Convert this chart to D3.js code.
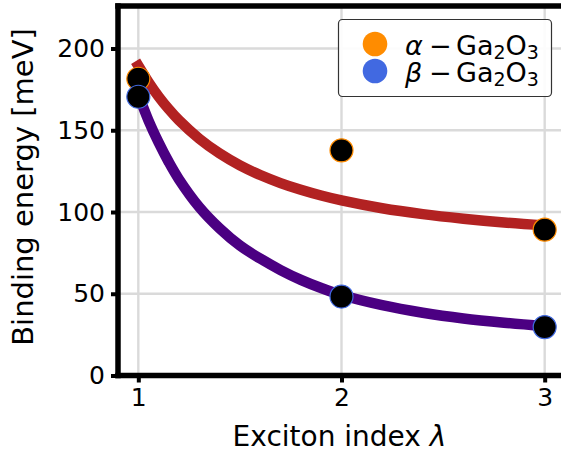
<!DOCTYPE html>
<html>
<head>
<meta charset="utf-8">
<script src="https://cdn.jsdelivr.net/npm/d3@7"></script>
<style>
  html, body { margin: 0; padding: 0; background: #fff; }
  svg { display: block; font-family: "DejaVu Sans", sans-serif; }
</style>
</head>
<body>
<svg id="chart" width="561" height="454"></svg>
<script>
// Exciton binding energies of the two Ga2O3 polymorphs
const excitonIndex = [1, 2, 3];
const alphaEnergy = [181.5, 137.7, 89.2];
const betaEnergy = [170.5, 48.3, 29.6];

// Smooth model curves through the series
const fitIndex = [1, 1.05, 1.1, 1.15, 1.2, 1.3, 1.4, 1.5, 1.6, 1.7, 1.8, 1.9, 2.0, 2.2, 2.4, 2.6, 2.8, 3.0];
const alphaFit = [189.5, 179.5, 170.6, 162.9, 156.1, 144.8, 135.8, 128.5, 122.6, 117.7, 113.6, 110.1, 107.1, 102.3, 98.7, 95.9, 93.6, 91.8];
const betaFit  = [172.0, 156.0, 142.5, 130.5, 120.0, 103.0, 90.0, 79.5, 71.5, 64.5, 58.5, 53.5, 49.2, 43.0, 38.4, 34.9, 32.3, 30.2];

const xTicks = [1, 2, 3];
const yTicks = [0, 50, 100, 150, 200];

const series = [
  { name: "α", fit: alphaFit, values: alphaEnergy, line: "#b22222", marker: "#ff8c00" },
  { name: "β", fit: betaFit,  values: betaEnergy,  line: "#4b0082", marker: "#4169e1" }
];

const svg = d3.select("#chart");
const plot = { left: 118, right: 565, top: 6, bottom: 375.5 };

const x = d3.scaleLinear().domain([0.9, 3.1]).range([plot.left, plot.right]);
const y = d3.scaleLinear().domain([0, 226]).range([plot.bottom, plot.top]);

// grid
const grid = svg.append("g").attr("stroke", "#dadada").attr("stroke-width", 2.4);
grid.selectAll(".gx").data(xTicks).join("line")
  .attr("x1", d => x(d)).attr("x2", d => x(d))
  .attr("y1", plot.top).attr("y2", plot.bottom);
grid.selectAll(".gy").data(yTicks).join("line")
  .attr("x1", plot.left).attr("x2", plot.right)
  .attr("y1", d => y(d)).attr("y2", d => y(d));

// fitted curves
const line = d3.line().x(d => x(d[0])).y(d => y(d[1])).curve(d3.curveCatmullRom);
svg.append("g").selectAll("path").data(series).join("path")
  .attr("d", s => line(fitIndex.map((l, i) => [l, s.fit[i]])))
  .attr("fill", "none")
  .attr("stroke", s => s.line)
  .attr("stroke-width", 10.5)
  .attr("stroke-linecap", "square");

// measured points
series.forEach(s => {
  svg.append("g").selectAll("circle").data(excitonIndex).join("circle")
    .attr("cx", d => x(d))
    .attr("cy", (d, i) => y(s.values[i]))
    .attr("r", 11.5)
    .attr("fill", "#000")
    .attr("stroke", s.marker)
    .attr("stroke-width", 1.2);
});

// axes
const xAxis = d3.axisBottom(x).tickValues(xTicks).tickFormat(d3.format("d")).tickSize(7).tickPadding(6);
const yAxis = d3.axisLeft(y).tickValues(yTicks).tickFormat(d3.format("d")).tickSize(7).tickPadding(6);

const gx = svg.append("g").attr("transform", `translate(0,${plot.bottom})`).call(xAxis);
const gy = svg.append("g").attr("transform", `translate(${plot.left},0)`).call(yAxis);
[gx, gy].forEach(g => {
  g.select(".domain").remove();
  g.selectAll(".tick line").attr("stroke", "#000").attr("stroke-width", 4);
  g.selectAll(".tick text").attr("fill", "#000")
    .style("font-family", "DejaVu Sans").style("font-size", "25px");
});

// spines
const spines = svg.append("g").attr("stroke", "#000").attr("stroke-width", 5.5).attr("fill", "none");
spines.append("line").attr("x1", plot.left).attr("x2", plot.left).attr("y1", plot.top - 2.75).attr("y2", plot.bottom + 2.75);
spines.append("line").attr("x1", plot.left - 2.75).attr("x2", plot.right + 2.75).attr("y1", plot.bottom).attr("y2", plot.bottom);
spines.append("line").attr("x1", plot.left - 2.75).attr("x2", plot.right + 2.75).attr("y1", plot.top).attr("y2", plot.top);
spines.append("line").attr("x1", plot.right).attr("x2", plot.right).attr("y1", plot.top).attr("y2", plot.bottom);

// axis labels
svg.append("text")
  .attr("x", (plot.left + plot.right) / 2 - 2).attr("y", 446)
  .attr("text-anchor", "middle")
  .style("font-size", "28px")
  .call(t => {
    t.append("tspan").text("Exciton index ");
    t.append("tspan").style("font-style", "italic").text("λ");
  });

svg.append("text")
  .attr("transform", "translate(33,187) rotate(-90)")
  .attr("text-anchor", "middle")
  .style("font-size", "29px")
  .text("Binding energy [meV]");

// legend
const legend = svg.append("g");
legend.append("rect")
  .attr("x", 338.5).attr("y", 19.5).attr("width", 213).attr("height", 77)
  .attr("rx", 4).attr("fill", "#fff").attr("fill-opacity", 0.9)
  .attr("stroke", "#333").attr("stroke-width", 1.2);

const rows = legend.selectAll("g.row").data(series).join("g")
  .attr("transform", (d, i) => `translate(375,${44 + i * 27})`);
rows.append("circle").attr("r", 12.3).attr("fill", d => d.marker);
rows.append("text")
  .attr("x", 30).attr("y", 11)
  .style("font-size", "27px")
  .each(function (d) {
    const t = d3.select(this);
    t.append("tspan").style("font-style", "italic").text(d.name);
    t.append("tspan").attr("x", 54).text("−");
    t.append("tspan").attr("x", 81).text("Ga");
    t.append("tspan").attr("dy", 4).style("font-size", "19px").text("2");
    t.append("tspan").attr("dy", -4).text("O");
    t.append("tspan").attr("dy", 4).style("font-size", "19px").text("3");
  });
</script>
</body>
</html>
